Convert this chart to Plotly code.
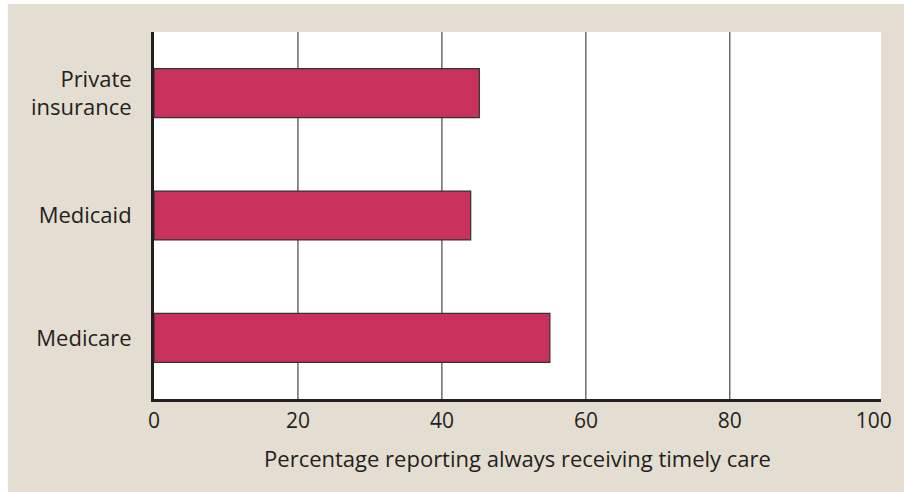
import plotly.graph_objects as go

categories = ["Medicare", "Medicaid", "Private<br>insurance"]
values = [55.0, 44.0, 45.2]
tick_vals = [0, 20, 40, 60, 80, 100]
grid_vals = [20, 40, 60, 80]
x_title = "Percentage reporting always receiving timely care"

BEIGE = "#e4ddd2"
BAR = "#c8325a"
INK = "#231f20"
FONT = "Open Sans"

W, H = 904, 492
L, R, T, B = 154, 19, 32, 93
PW, PH = W - L - R, H - T - B

fig = go.Figure()
fig.add_trace(go.Bar(
    x=values, y=categories, orientation="h",
    marker=dict(color=BAR, line=dict(color="#333333", width=1.2)),
    hoverinfo="skip",
))

for g in grid_vals:
    fig.add_shape(type="line", xref="x", yref="paper", x0=g, x1=g, y0=0, y1=1,
                  line=dict(color=INK, width=1), layer="below")

# thin white outer strips (left and top) as in the reference
fig.add_shape(type="rect", xref="paper", yref="paper",
              x0=-L / PW - 0.05, x1=(7 - L) / PW, y0=-B / PH - 0.05, y1=(H - B) / PH + 0.05,
              fillcolor="white", line=dict(width=0), layer="below")
fig.add_shape(type="rect", xref="paper", yref="paper",
              x0=-L / PW - 0.05, x1=1 + R / PW + 0.05, y0=(PH + T - 4) / PH, y1=(PH + T) / PH + 0.05,
              fillcolor="white", line=dict(width=0), layer="below")

fig.update_layout(
    width=W, height=H,
    margin=dict(l=L, r=R, t=T, b=B),
    paper_bgcolor=BEIGE, plot_bgcolor="white",
    showlegend=False, bargap=0.6,
    font=dict(family=FONT, size=22, color=INK),
    xaxis=dict(range=[0, 101], tickvals=tick_vals, showgrid=False, zeroline=False,
               showline=True, linewidth=3, linecolor=INK, ticks="",
               ticklabelstandoff=1, tickfont=dict(size=21, color=INK),
               title=dict(text=x_title, standoff=19, font=dict(size=22, color=INK))),
    yaxis=dict(range=[-0.5, 2.5], showgrid=False, zeroline=False,
               showline=True, linewidth=3, linecolor=INK, ticks="",
               ticklabelstandoff=15, tickfont=dict(size=22, color=INK)),
)

fig.write_html("out.html", config={"displayModeBar": False},
               post_script="document.body.style.margin='0';document.body.style.overflow='hidden';")
